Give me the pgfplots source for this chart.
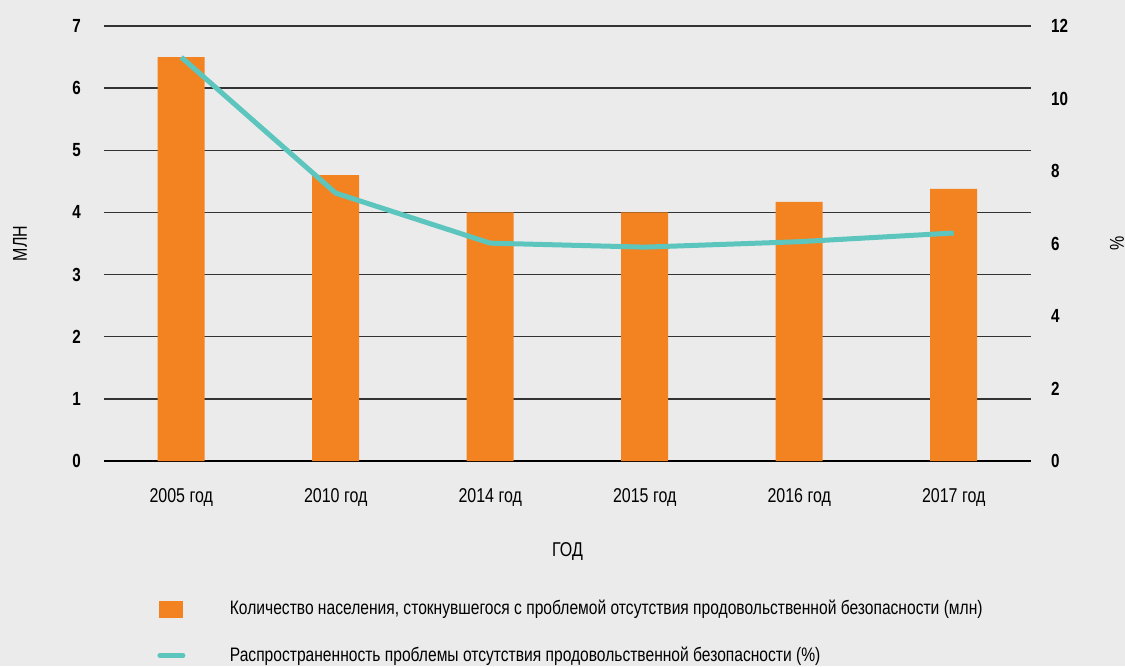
\documentclass[border=0pt]{standalone}
\usepackage{fontspec}
\setmainfont{Liberation Sans}[FakeStretch=0.8]
\usepackage{pgfplots}
\pgfplotsset{compat=1.18}
\definecolor{bg}{HTML}{EBEBEB}
\definecolor{barorange}{HTML}{F38321}
\definecolor{lineteal}{HTML}{5BC5BE}

\begin{document}
\begin{tikzpicture}
\fill[bg] (-52pt,-102.5pt) rectangle (510.5pt,230.5pt);
\path[use as bounding box] (-52pt,-102.5pt) rectangle (510.5pt,230.5pt);

% left axis: population (mln)
\begin{axis}[
    at={(0,0)}, anchor=south west,
    scale only axis, width=463.5pt, height=217.5pt,
    xmin=-0.5, xmax=5.5, ymin=0, ymax=7,
    axis x line*=bottom, axis y line*=left,
    x axis line style={line width=1.3pt, -},
    y axis line style={draw=none},
    major tick length=0pt,
    xtick={0,...,5},
    xticklabels={2005 год, 2010 год, 2014 год, 2015 год, 2016 год, 2017 год},
    ytick={0,...,7},
    ymajorgrids,
    grid style={black!80, line width=0.7pt},
    /pgf/number format/assume math mode=true,
    yticklabel style={font=\bfseries\fontsize{9.5}{11}\selectfont, anchor=east, xshift=-8pt},
    xticklabel style={font=\fontsize{10}{12}\selectfont, yshift=-10pt},
    xlabel={ГОД},
    xlabel style={at={(axis description cs:0.5,0)}, anchor=center, yshift=-45.5pt, font=\fontsize{10}{12}\selectfont},
    ylabel={МЛН},
    ylabel style={at={(axis description cs:0,0.5)}, anchor=center, yshift=42pt, font=\fontsize{10}{12}\selectfont},
    ybar, bar width=23.5pt,
]
\addplot[fill=barorange, draw=none] coordinates {
    (0, 6.5) (1, 4.6) (2, 4.0) (3, 4.0) (4, 4.17) (5, 4.38)
};
\end{axis}

% right axis: prevalence (%)
\begin{axis}[
    at={(0,0)}, anchor=south west,
    scale only axis, width=463.5pt, height=217.5pt,
    xmin=-0.5, xmax=5.5, ymin=0, ymax=12,
    axis x line=none, axis y line*=right,
    y axis line style={draw=none},
    major tick length=0pt,
    ytick={0,2,...,12},
    /pgf/number format/assume math mode=true,
    yticklabel style={font=\bfseries\fontsize{9.5}{11}\selectfont, anchor=west, xshift=6.5pt},
    ylabel={\%},
    ylabel style={at={(axis description cs:1,0.5)}, anchor=center, yshift=-43pt, font=\fontsize{10}{12}\selectfont},
    legend style={at={(axis description cs:0,0)}, anchor=north west,
        xshift=26.5pt, yshift=-67.5pt, draw=none, fill=none,
        inner sep=0pt, row sep=10.5pt,
        font=\fontsize{9.75}{11}\selectfont},
    legend cell align=left,
    clip=false,
]
\addlegendimage{legend image code/.code={
    \fill[barorange, draw=none] (0pt,-4.25pt) rectangle (12pt,4.25pt);
    \path[draw=none] (0pt,0pt) -- (33.5pt,0pt);}}
\addlegendentry{Количество населения, стокнувшегося с проблемой отсутствия продовольственной безопасности (млн)}
\addplot[lineteal, line width=2.5pt, line join=round,
    legend image code/.code={
    \draw[lineteal, line width=2.5pt, line cap=round] (0.5pt,0pt) -- (12pt,0pt);
    \path[draw=none] (0pt,0pt) -- (33.5pt,0pt);}] coordinates {
    (0, 11.14) (1, 7.39) (2, 6.01) (3, 5.9) (4, 6.05) (5, 6.29)
};
\addlegendentry{Распространенность проблемы отсутствия продовольственной безопасности (\%)}
\end{axis}
\end{tikzpicture}
\end{document}
